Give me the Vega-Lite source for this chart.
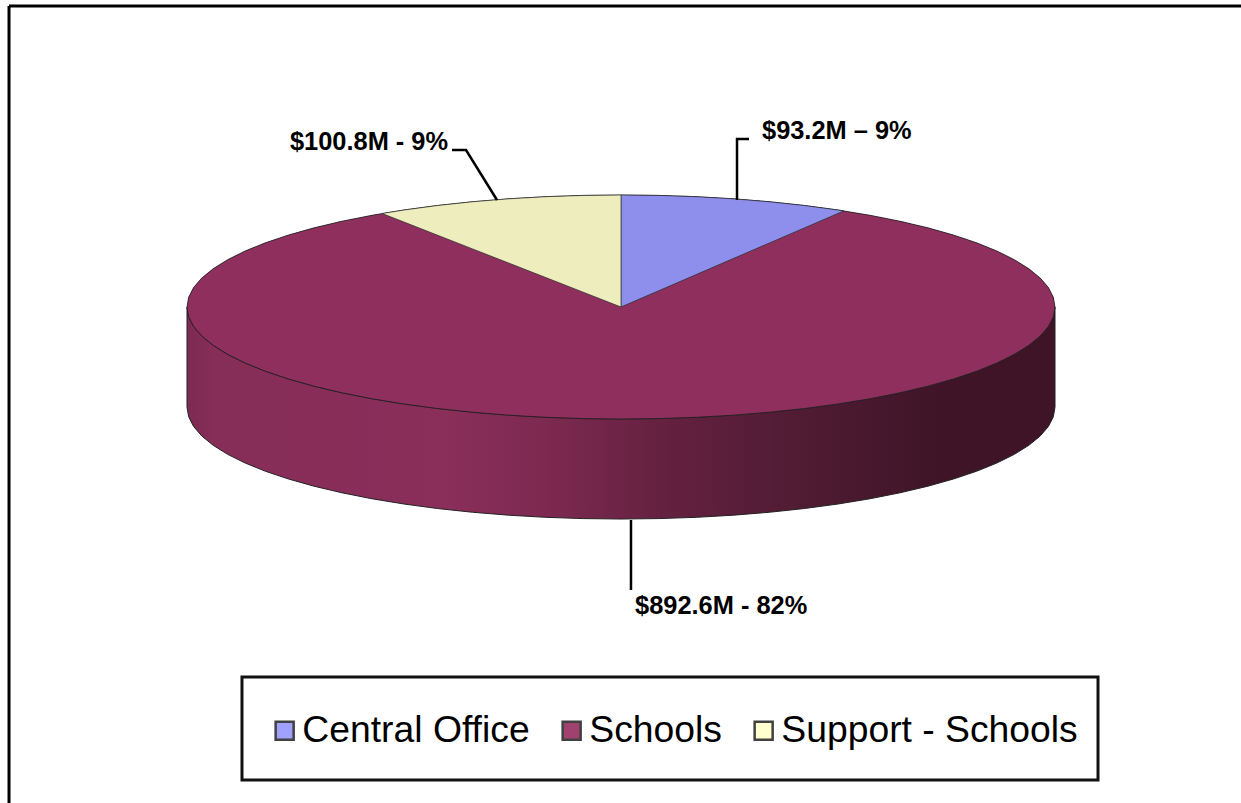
{
  "$schema": "https://vega.github.io/schema/vega-lite/v6.json",
  "width": 1241,
  "height": 803,
  "padding": 0,
  "autosize": {"type": "none"},
  "background": "white",
  "config": {"view": {"stroke": null}},
  "datasets": {
    "rim": [
      {"x": -1, "upper": 0, "lower": 0, "base": -0.893},
      {"x": -0.9962, "upper": 0.0872, "lower": -0.0872, "base": -0.9802},
      {"x": -0.9848, "upper": 0.1736, "lower": -0.1736, "base": -1.0666},
      {"x": -0.9659, "upper": 0.2588, "lower": -0.2588, "base": -1.1518},
      {"x": -0.9397, "upper": 0.342, "lower": -0.342, "base": -1.235},
      {"x": -0.9063, "upper": 0.4226, "lower": -0.4226, "base": -1.3156},
      {"x": -0.866, "upper": 0.5, "lower": -0.5, "base": -1.393},
      {"x": -0.8192, "upper": 0.5736, "lower": -0.5736, "base": -1.4666},
      {"x": -0.766, "upper": 0.6428, "lower": -0.6428, "base": -1.5358},
      {"x": -0.7071, "upper": 0.7071, "lower": -0.7071, "base": -1.6001},
      {"x": -0.6428, "upper": 0.766, "lower": -0.766, "base": -1.659},
      {"x": -0.5736, "upper": 0.8192, "lower": -0.8192, "base": -1.7122},
      {"x": -0.5, "upper": 0.866, "lower": -0.866, "base": -1.759},
      {"x": -0.4226, "upper": 0.9063, "lower": -0.9063, "base": -1.7993},
      {"x": -0.342, "upper": 0.9397, "lower": -0.9397, "base": -1.8327},
      {"x": -0.2588, "upper": 0.9659, "lower": -0.9659, "base": -1.8589},
      {"x": -0.1736, "upper": 0.9848, "lower": -0.9848, "base": -1.8778},
      {"x": -0.0872, "upper": 0.9962, "lower": -0.9962, "base": -1.8892},
      {"x": 0, "upper": 1, "lower": -1, "base": -1.893},
      {"x": 0.0872, "upper": 0.9962, "lower": -0.9962, "base": -1.8892},
      {"x": 0.1736, "upper": 0.9848, "lower": -0.9848, "base": -1.8778},
      {"x": 0.2588, "upper": 0.9659, "lower": -0.9659, "base": -1.8589},
      {"x": 0.342, "upper": 0.9397, "lower": -0.9397, "base": -1.8327},
      {"x": 0.4226, "upper": 0.9063, "lower": -0.9063, "base": -1.7993},
      {"x": 0.5, "upper": 0.866, "lower": -0.866, "base": -1.759},
      {"x": 0.5736, "upper": 0.8192, "lower": -0.8192, "base": -1.7122},
      {"x": 0.6428, "upper": 0.766, "lower": -0.766, "base": -1.659},
      {"x": 0.7071, "upper": 0.7071, "lower": -0.7071, "base": -1.6001},
      {"x": 0.766, "upper": 0.6428, "lower": -0.6428, "base": -1.5358},
      {"x": 0.8192, "upper": 0.5736, "lower": -0.5736, "base": -1.4666},
      {"x": 0.866, "upper": 0.5, "lower": -0.5, "base": -1.393},
      {"x": 0.9063, "upper": 0.4226, "lower": -0.4226, "base": -1.3156},
      {"x": 0.9397, "upper": 0.342, "lower": -0.342, "base": -1.235},
      {"x": 0.9659, "upper": 0.2588, "lower": -0.2588, "base": -1.1518},
      {"x": 0.9848, "upper": 0.1736, "lower": -0.1736, "base": -1.0666},
      {"x": 0.9962, "upper": 0.0872, "lower": -0.0872, "base": -0.9802},
      {"x": 1, "upper": 0, "lower": 0, "base": -0.893}
    ],
    "wedges": [
      {"name": "Central Office", "x": 0, "upper": 1, "lower": 0},
      {"name": "Central Office", "x": 0.0872, "upper": 0.9962, "lower": 0.1457},
      {"name": "Central Office", "x": 0.1736, "upper": 0.9848, "lower": 0.2901},
      {"name": "Central Office", "x": 0.2588, "upper": 0.9659, "lower": 0.4324},
      {"name": "Central Office", "x": 0.342, "upper": 0.9397, "lower": 0.5714},
      {"name": "Central Office", "x": 0.4226, "upper": 0.9063, "lower": 0.7061},
      {"name": "Central Office", "x": 0.5, "upper": 0.866, "lower": 0.8355},
      {"name": "Central Office", "x": 0.5135, "upper": 0.8581, "lower": 0.8581},
      {"name": "Support - Schools", "x": 0, "upper": 1, "lower": 0},
      {"name": "Support - Schools", "x": -0.0872, "upper": 0.9962, "lower": 0.1322},
      {"name": "Support - Schools", "x": -0.1736, "upper": 0.9848, "lower": 0.2633},
      {"name": "Support - Schools", "x": -0.2588, "upper": 0.9659, "lower": 0.3925},
      {"name": "Support - Schools", "x": -0.342, "upper": 0.9397, "lower": 0.5186},
      {"name": "Support - Schools", "x": -0.4226, "upper": 0.9063, "lower": 0.6409},
      {"name": "Support - Schools", "x": -0.5, "upper": 0.866, "lower": 0.7583},
      {"name": "Support - Schools", "x": -0.5505, "upper": 0.8348, "lower": 0.8348}
    ],
    "leaders": [
      {"slice": "Support - Schools", "step": 1, "x": -0.3894, "y": 1.4018},
      {"slice": "Support - Schools", "step": 2, "x": -0.3571, "y": 1.4018},
      {"slice": "Support - Schools", "step": 3, "x": -0.2857, "y": 0.9554},
      {"slice": "Central Office", "step": 1, "x": 0.2949, "y": 1.5},
      {"slice": "Central Office", "step": 2, "x": 0.2673, "y": 1.5},
      {"slice": "Central Office", "step": 3, "x": 0.2673, "y": 0.9554},
      {"slice": "Schools", "step": 1, "x": 0.023, "y": -1.9018},
      {"slice": "Schools", "step": 2, "x": 0.023, "y": -2.5268}
    ],
    "labels": [
      {"label": "$100.8M - 9%", "x": -0.7627, "y": 1.4732},
      {"label": "$93.2M – 9%", "x": 0.3249, "y": 1.5714},
      {"label": "$892.6M - 82%", "x": 0.0323, "y": -2.6696}
    ],
    "frame": [
      {"x": -1.4101, "y": 2.6875, "x2": 1.4286, "y2": 2.6875},
      {"x": -1.4101, "y": 2.6875, "x2": -1.4101, "y2": -4.4286}
    ],
    "legendBox": [
      {"x": -0.8733, "x2": 1.0991, "y": -3.3036, "y2": -4.2232}
    ]
  },
  "layer": [
    {
      "data": {"name": "frame"},
      "mark": {"type": "rule", "color": "#000000", "strokeWidth": 3},
      "encoding": {
        "x": {"field": "x", "type": "quantitative", "axis": null, "scale": {"domain": [-1.43088, 1.42857], "nice": false, "zero": false}},
        "y": {"field": "y", "type": "quantitative", "axis": null, "scale": {"domain": [-4.42857, 2.74107], "nice": false, "zero": false}},
        "x2": {"field": "x2"},
        "y2": {"field": "y2"}
      }
    },
    {
      "data": {"name": "legendBox"},
      "mark": {"type": "rect", "fill": "white", "stroke": "#111111", "strokeWidth": 3},
      "encoding": {
        "x": {"field": "x", "type": "quantitative"},
        "x2": {"field": "x2"},
        "y": {"field": "y", "type": "quantitative"},
        "y2": {"field": "y2"}
      }
    },
    {
      "data": {"name": "rim"},
      "mark": {
        "type": "area",
        "stroke": "#222222",
        "strokeWidth": 1,
        "fill": {
          "gradient": "linear", "x1": 0, "y1": 0, "x2": 1, "y2": 0,
          "stops": [
            {"offset": 0, "color": "#7d2952"},
            {"offset": 0.03, "color": "#862d58"},
            {"offset": 0.3, "color": "#8a2e5a"},
            {"offset": 0.42, "color": "#7c2950"},
            {"offset": 0.55, "color": "#642140"},
            {"offset": 0.72, "color": "#4e1b32"},
            {"offset": 0.88, "color": "#3e1426"},
            {"offset": 1, "color": "#3f1427"}
          ]
        }
      },
      "encoding": {
        "x": {"field": "x", "type": "quantitative"},
        "y": {"field": "lower", "type": "quantitative", "stack": null},
        "y2": {"field": "base"}
      }
    },
    {
      "data": {"name": "rim"},
      "mark": {"type": "area", "fill": "#000000"},
      "encoding": {
        "x": {"field": "x", "type": "quantitative"},
        "y": {"field": "upper", "type": "quantitative", "stack": null},
        "y2": {"field": "lower"}
      }
    },
    {
      "data": {"name": "rim"},
      "transform": [{"calculate": "'Schools'", "as": "name"}],
      "mark": {"type": "area", "opacity": 0.93, "stroke": "#222222", "strokeWidth": 0.8},
      "encoding": {
        "x": {"field": "x", "type": "quantitative"},
        "y": {"field": "upper", "type": "quantitative", "stack": null},
        "y2": {"field": "lower"},
        "color": {
          "field": "name",
          "type": "nominal",
          "scale": {
            "domain": ["Central Office", "Schools", "Support - Schools"],
            "range": ["#9999ff", "#993366", "#ffffcc"]
          },
          "legend": {
            "orient": "none",
            "legendX": 266,
            "legendY": 712,
            "direction": "horizontal",
            "columns": 3,
            "title": null,
            "padding": 0,
            "columnPadding": 23,
            "symbolType": "square",
            "symbolSize": 324,
            "symbolStrokeColor": "#000000",
            "symbolStrokeWidth": 2.5,
            "symbolOpacity": 1,
            "labelFont": "Liberation Sans",
            "labelFontSize": 37.3,
            "labelColor": "#000000",
            "labelLimit": 400,
            "labelOffset": -1
          }
        }
      }
    },
    {
      "data": {"name": "wedges"},
      "mark": {"type": "area", "fill": "#000000"},
      "encoding": {
        "x": {"field": "x", "type": "quantitative"},
        "y": {"field": "upper", "type": "quantitative", "stack": null},
        "y2": {"field": "lower"},
        "detail": {"field": "name"}
      }
    },
    {
      "data": {"name": "wedges"},
      "mark": {"type": "area", "opacity": 0.93, "stroke": "#333333", "strokeWidth": 0.7},
      "encoding": {
        "x": {"field": "x", "type": "quantitative"},
        "y": {"field": "upper", "type": "quantitative", "stack": null},
        "y2": {"field": "lower"},
        "color": {"field": "name", "type": "nominal"}
      }
    },
    {
      "data": {"name": "leaders"},
      "mark": {"type": "line", "color": "#000000", "strokeWidth": 2.5},
      "encoding": {
        "x": {"field": "x", "type": "quantitative"},
        "y": {"field": "y", "type": "quantitative"},
        "detail": {"field": "slice"},
        "order": {"field": "step"}
      }
    },
    {
      "data": {"name": "labels"},
      "mark": {"type": "text", "align": "left", "baseline": "middle", "font": "Liberation Sans", "fontWeight": "bold", "fontSize": 25.4, "color": "#000000"},
      "encoding": {
        "x": {"field": "x", "type": "quantitative"},
        "y": {"field": "y", "type": "quantitative"},
        "text": {"field": "label"}
      }
    }
  ],
  "resolve": {"scale": {"x": "shared", "y": "shared", "color": "shared"}}
}
